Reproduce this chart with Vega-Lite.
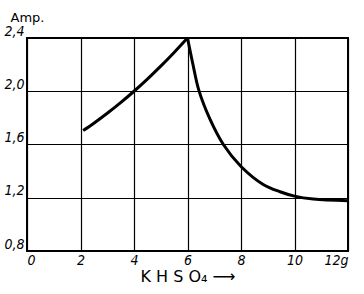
{
  "$schema": "https://vega.github.io/schema/vega-lite/v6.json",
  "width": 321,
  "height": 213,
  "autosize": "none",
  "padding": {"left": 27, "top": 38, "right": 16, "bottom": 43},
  "background": "white",
  "config": {
    "view": {"stroke": "black", "strokeWidth": 2},
    "axis": {"domain": false, "ticks": false, "grid": true, "gridColor": "black", "gridOpacity": 1, "gridWidth": 1.2,
             "labelFont": "DejaVu Sans Condensed", "labelFontStyle": "italic", "labelFontSize": 14, "labelColor": "black",
             "titleFont": "DejaVu Sans", "titleColor": "black", "titleFontWeight": "normal"}
  },
  "data": {"values": [
    {"g": 2.1, "amp": 1.705, "s": "a"},
    {"g": 2.5, "amp": 1.76, "s": "a"},
    {"g": 3.0, "amp": 1.8345, "s": "a"},
    {"g": 3.5, "amp": 1.9144, "s": "a"},
    {"g": 4.0, "amp": 2.0, "s": "a"},
    {"g": 4.5, "amp": 2.0915, "s": "a"},
    {"g": 5.0, "amp": 2.1886, "s": "a"},
    {"g": 5.5, "amp": 2.2915, "s": "a"},
    {"g": 6.0, "amp": 2.4, "s": "a"},
    {"g": 6.0, "amp": 2.4, "s": "b"},
    {"g": 6.2, "amp": 2.205, "s": "b"},
    {"g": 6.42, "amp": 2.01, "s": "b"},
    {"g": 6.84, "amp": 1.79, "s": "b"},
    {"g": 7.34, "amp": 1.6, "s": "b"},
    {"g": 8.0, "amp": 1.435, "s": "b"},
    {"g": 8.83, "amp": 1.3, "s": "b"},
    {"g": 9.46, "amp": 1.245, "s": "b"},
    {"g": 10.0, "amp": 1.212, "s": "b"},
    {"g": 10.7, "amp": 1.19, "s": "b"},
    {"g": 12.0, "amp": 1.178, "s": "b"}
  ]},
  "mark": {"type": "line", "color": "black", "strokeWidth": 3, "interpolate": "catmull-rom", "clip": true},
  "encoding": {
    "x": {"field": "g", "type": "quantitative", "scale": {"domain": [0, 12], "nice": false},
          "axis": {"values": [0, 2, 4, 6, 8, 10, 12], "labelPadding": 2,
                   "labelExpr": "datum.value == 12 ? '12g' : datum.label",
                   "title": "K H S O₄ ⟶", "titleFontSize": 16, "titlePadding": 1}},
    "y": {"field": "amp", "type": "quantitative", "scale": {"domain": [0.8, 2.4], "nice": false, "zero": false},
          "axis": {"values": [0.8, 1.2, 1.6, 2.0, 2.4], "labelPadding": 3, "labelBaseline": "bottom",
                   "labelExpr": "replace(format(datum.value, '.1f'), '.', ',')",
                   "title": "Amp.", "titleAngle": 0, "titleFontSize": 13, "titleAlign": "left",
                   "titleX": -17, "titleY": -14}},
    "detail": {"field": "s"}
  }
}
